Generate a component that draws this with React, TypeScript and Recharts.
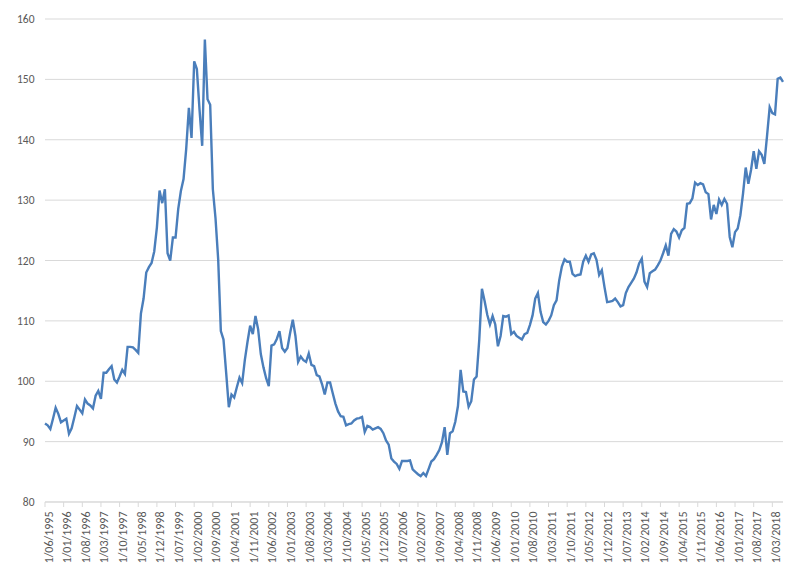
import React from 'react';
import { LineChart, Line, XAxis, YAxis, CartesianGrid } from 'recharts';

const startYear = 1995;
const startMonth = 6;

const values: number[] = [
  93.0, 92.7, 92.1, 93.8, 95.6, 94.6, 93.2, 93.5, 93.8, 91.3,
  92.2, 94.0, 95.9, 95.3, 94.7, 97.0, 96.3, 96.0, 95.5, 97.6,
  98.4, 97.1, 101.4, 101.4, 102.0, 102.5, 100.3, 99.8, 100.8, 101.9,
  101.2, 105.7, 105.7, 105.6, 105.2, 104.7, 111.2, 113.7, 118.0, 118.9,
  119.6, 121.5, 125.5, 131.6, 129.5, 131.8, 121.2, 120.0, 123.8, 123.8,
  128.5, 131.5, 133.5, 138.5, 145.3, 140.3, 153.0, 151.7, 145.0, 139.0,
  156.6, 146.7, 145.8, 131.8, 127.0, 120.2, 108.3, 106.9, 101.4, 95.7,
  97.8, 97.3, 99.0, 100.6, 99.7, 103.5, 106.5, 109.2, 107.8, 110.8,
  108.6, 104.5, 102.3, 100.5, 99.2, 105.9, 106.1, 107.0, 108.3, 105.5,
  104.9, 105.5, 108.0, 110.2, 107.5, 103.2, 104.1, 103.5, 103.2, 104.6,
  102.7, 102.5, 101.0, 100.8, 99.5, 97.8, 99.8, 99.8, 98.0, 96.3,
  95.0, 94.2, 94.1, 92.7, 92.9, 93.0, 93.5, 93.8, 93.9, 94.1,
  91.6, 92.6, 92.4, 92.0, 92.2, 92.4, 92.1, 91.4, 90.2, 89.5,
  87.2, 86.7, 86.3, 85.5, 86.8, 86.8, 86.8, 86.9, 85.4, 85.0,
  84.6, 84.3, 84.8, 84.3, 85.5, 86.7, 87.1, 87.8, 88.6, 89.9,
  92.4, 87.8, 91.4, 91.7, 93.3, 95.9, 101.9, 98.3, 98.2, 95.8,
  96.7, 100.3, 100.8, 106.9, 115.3, 113.3, 111.0, 109.4, 110.8, 109.4,
  105.8, 107.5, 110.8, 110.7, 110.9, 107.8, 108.2, 107.5, 107.2, 106.9,
  107.8, 108.0, 109.3, 110.9, 113.7, 114.6, 111.5, 109.8, 109.4, 110.0,
  110.9, 112.6, 113.4, 116.7, 119.0, 120.2, 119.8, 119.8, 117.8, 117.4,
  117.6, 117.7, 119.8, 120.8, 119.8, 121.0, 121.2, 120.1, 117.6, 118.4,
  115.6, 113.1, 113.2, 113.3, 113.7, 113.1, 112.4, 112.6, 114.6, 115.6,
  116.3, 117.0, 118.0, 119.5, 120.3, 116.5, 115.6, 117.9, 118.2, 118.5,
  119.2, 120.0, 121.2, 122.5, 120.8, 124.4, 125.2, 124.8, 123.8, 125.0,
  125.4, 129.4, 129.5, 130.3, 132.9, 132.5, 132.8, 132.6, 131.3, 131.0,
  126.8, 129.2, 127.7, 130.1, 129.2, 130.2, 129.4, 123.9, 122.2, 124.7,
  125.3, 127.5, 131.1, 135.4, 132.7, 135.0, 138.1, 135.2, 138.1, 137.5,
  136.0, 140.6, 145.4, 144.4, 144.2, 150.1, 150.3, 149.6,
];

const yTicks: number[] = [80, 90, 100, 110, 120, 130, 140, 150, 160];

const dates: string[] = values.map((_, i) => {
  const m0 = startMonth - 1 + i;
  const y = startYear + Math.floor(m0 / 12);
  const m = (m0 % 12) + 1;
  return `1/${m < 10 ? '0' + m : m}/${y}`;
});

const data = values.map((v, i) => ({ date: dates[i], value: v }));

const FONT = 'Carlito, Lato, "Open Sans", sans-serif';

const XTick = (props: any) => {
  const { x, y, payload } = props;
  return (
    <g transform={`translate(${x + 7.5},${y + 2.5})`}>
      <text
        x={0}
        y={0}
        textAnchor="end"
        transform="rotate(-90)"
        fill="#595959"
        fontSize={12}
        fontFamily={FONT}
      >
        {payload.value}
      </text>
    </g>
  );
};

export default function App() {
  return (
    <div style={{ position: 'absolute', left: 0, top: 0, width: 800, height: 579, background: '#fff' }}>
      <LineChart
        width={800}
        height={579}
        data={data}
        margin={{ top: 19, right: 17, left: 0, bottom: 0 }}
      >
        <CartesianGrid vertical={false} stroke="#d9d9d9" strokeWidth={1} />
        <XAxis
          dataKey="date"
          scale="point"
          interval={6}
          height={77}
          tickSize={5}
          tickMargin={2}
          tickLine={{ stroke: '#d9d9d9' }}
          axisLine={{ stroke: '#d9d9d9' }}
          tick={<XTick />}
        />
        <YAxis
          domain={[80, 160]}
          ticks={yTicks}
          width={45}
          tickSize={8}
          tickMargin={2.5}
          tickLine={false}
          axisLine={false}
          tick={{ fill: '#595959', fontSize: 11.5, fontFamily: FONT }}
        />
        <Line
          type="linear"
          dataKey="value"
          stroke="#4a7ebb"
          strokeWidth={2.4}
          dot={false}
          isAnimationActive={false}
        />
      </LineChart>
    </div>
  );
}
